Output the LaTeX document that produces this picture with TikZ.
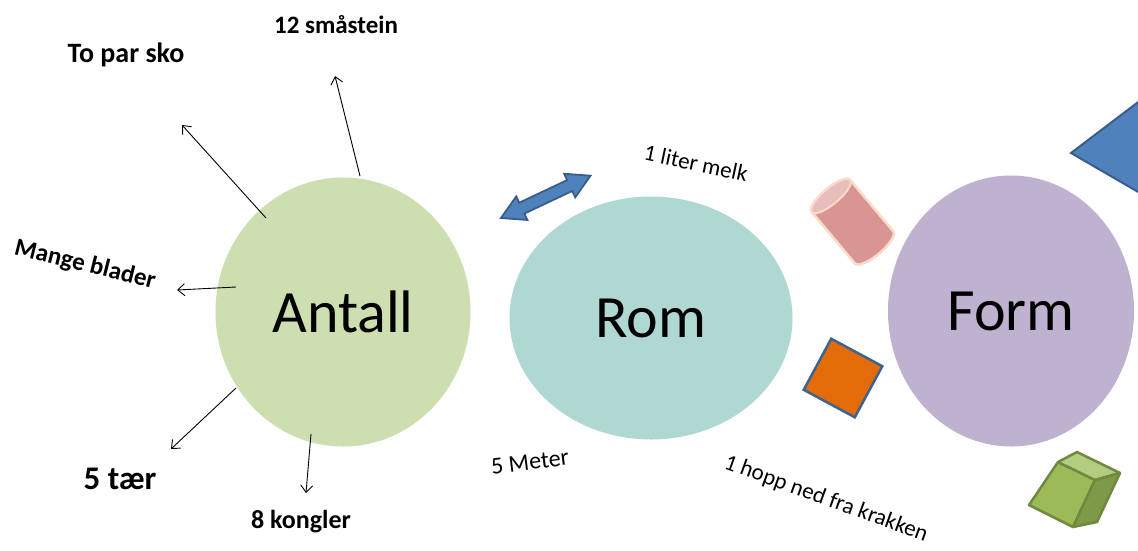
\documentclass[tikz,border=0pt]{standalone}
\usepackage{fontspec}
\setmainfont{Carlito}
\usetikzlibrary{shapes.geometric,arrows.meta}
\definecolor{antallc}{RGB}{205,222,176}
\definecolor{romc}{RGB}{176,216,210}
\definecolor{formc}{RGB}{191,177,208}
\definecolor{arrowblue}{RGB}{79,129,189}
\definecolor{arrowedge}{RGB}{56,93,138}
\definecolor{cylbody}{RGB}{217,149,148}
\definecolor{cyltop}{RGB}{232,190,189}
\definecolor{cyledge}{RGB}{250,218,200}
\definecolor{sqorange}{RGB}{227,108,9}
\definecolor{sqedge}{RGB}{60,100,145}
\definecolor{cubefront}{RGB}{155,187,89}
\definecolor{cubetop}{RGB}{178,204,128}
\definecolor{cubeside}{RGB}{126,154,72}
\definecolor{cubeedge}{RGB}{113,137,63}
\begin{document}
\begin{tikzpicture}[x=1pt,y=1pt,
  lbl/.style={inner sep=0pt, text=black},
  arr/.style={-{Straight Barb[length=7pt,width=12pt]}, line width=0.9pt, black},
  bigc/.style={ellipse, inner sep=0pt, draw=none, font=\fontsize{60}{62}\selectfont}]
\useasboundingbox (0,0) rectangle (1138,-550);
\fill[white] (0,0) rectangle (1138,-550);

% main circles
\node[bigc, fill=antallc, minimum width=255pt, minimum height=269pt] (antall) at (343,-312) {Antall};
\node[bigc, fill=romc, minimum width=283pt, minimum height=243pt] (rom) at (651,-318) {Rom};
\node[bigc, fill=formc, minimum width=246pt, minimum height=271pt] (form) at (1011,-311) {Form};

% labels around Antall
\node[lbl, font=\bfseries\fontsize{25}{27}\selectfont] (sten) at (336,-25) {12 småstein};
\node[lbl, font=\bfseries\fontsize{28}{30}\selectfont] (sko) at (126,-55) {To par sko};
\node[lbl, font=\bfseries\fontsize{25}{27}\selectfont, rotate=-14] (blader) at (85,-265) {Mange blader};
\node[lbl, font=\bfseries\fontsize{33}{35}\selectfont] (taer) at (120,-479) {5 tær};
\node[lbl, font=\bfseries\fontsize{26}{28}\selectfont] (kongler) at (301,-522) {8 kongler};

% labels around Rom
\node[lbl, font=\fontsize{23}{25}\selectfont, rotate=-12] (melk) at (696,-163) {1 liter melk};
\node[lbl, font=\fontsize{24}{26}\selectfont, rotate=7] (meter) at (530,-462) {5 Meter};
\node[lbl, font=\fontsize{23}{25}\selectfont, rotate=-20] (hopp) at (826,-499) {1 hopp ned fra krakken};

% arrows from Antall
\coordinate (s1) at (266,-218); \coordinate (e1) at (182,-125);
\coordinate (s2) at (360,-176); \coordinate (e2) at (335,-76);
\coordinate (s3) at (236,-287); \coordinate (e3) at (177,-290);
\coordinate (s4) at (236,-388); \coordinate (e4) at (171,-449);
\coordinate (s5) at (311,-434); \coordinate (e5) at (306,-493);
\draw[arr] (s1) -- (e1);
\draw[arr] (s2) -- (e2);
\draw[arr] (s3) -- (e3);
\draw[arr] (s4) -- (e4);
\draw[arr] (s5) -- (e5);

% blue double arrow
\begin{scope}[shift={(501,-218)}, rotate=25.3]
\filldraw[fill=arrowblue, draw=arrowedge, line width=1.8pt, line join=miter]
  (0,0) -- (23,13) -- (23,6) -- (76,6) -- (76,13) -- (99,0) -- (76,-13) -- (76,-6) -- (23,-6) -- (23,-13) -- cycle;
\end{scope}

% cylinder
\begin{scope}[shift={(831,-196)}, rotate=-50]
\filldraw[fill=cylbody, draw=cyledge, line width=2.5pt]
  (0,25) -- (67,25) arc[start angle=90,end angle=-90,x radius=8,y radius=25]
  -- (0,-25) arc[start angle=-90,end angle=-270,x radius=8,y radius=25] -- cycle;
\filldraw[fill=cyltop, draw=cyledge, line width=2pt] (0,0) ellipse[x radius=8, y radius=25];
\end{scope}

% orange square
\begin{scope}[shift={(843,-378)}, rotate=-28.3]
\filldraw[fill=sqorange, draw=sqedge, line width=2.5pt] (-29,-29) rectangle (29,29);
\end{scope}

% green cube
\filldraw[fill=cubefront, draw=cubeedge, line width=2.5pt, line join=round]
  (1029,-505) -- (1058,-462) -- (1095,-480) -- (1073,-527) -- cycle;
\filldraw[fill=cubetop, draw=cubeedge, line width=2.5pt, line join=round]
  (1058,-462) -- (1077,-452) -- (1120,-473) -- (1095,-480) -- cycle;
\filldraw[fill=cubeside, draw=cubeedge, line width=2.5pt, line join=round]
  (1095,-480) -- (1120,-473) -- (1097,-522) -- (1073,-527) -- cycle;

% blue triangle (cut by right edge)
\begin{scope}
\clip (0,0) rectangle (1138,-550);
\filldraw[fill=arrowblue, draw=arrowedge, line width=2pt, line join=miter]
  (1071,-153) -- (1160,-85.5) -- (1160,-204.6) -- cycle;
\end{scope}
\end{tikzpicture}
\end{document}
